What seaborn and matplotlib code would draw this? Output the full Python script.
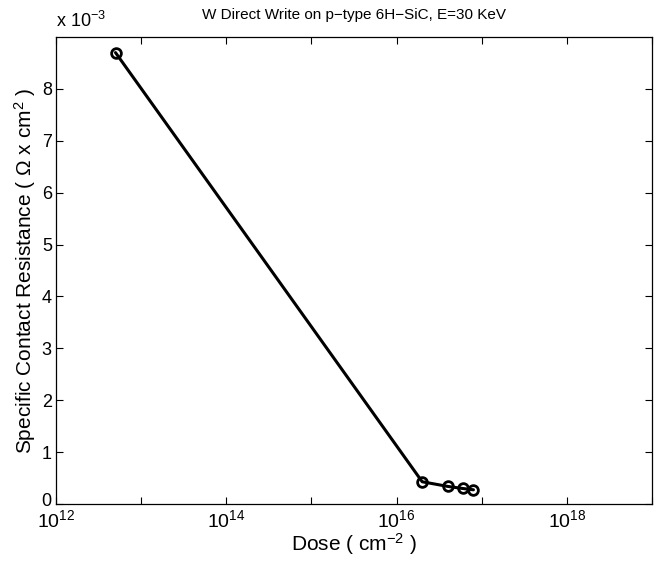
import numpy as np
import pandas as pd
import seaborn as sns
import matplotlib.pyplot as plt
import matplotlib.transforms as mtransforms
from matplotlib.ticker import FuncFormatter

dose = [5e12, 2.0e16, 4.0e16, 6.0e16, 8.0e16]
resistance = [8.7e-3, 0.43e-3, 0.34e-3, 0.30e-3, 0.275e-3]

data = pd.DataFrame({'dose': dose, 'rc': resistance})

sns.set_style('ticks')
plt.rcParams['font.family'] = ['Liberation Sans', 'DejaVu Sans']
plt.rcParams['mathtext.fontset'] = 'custom'
plt.rcParams['mathtext.rm'] = 'Liberation Sans'
plt.rcParams['mathtext.it'] = 'Liberation Sans'
for k in ['text.color', 'axes.labelcolor', 'xtick.color', 'ytick.color', 'axes.edgecolor']:
    plt.rcParams[k] = 'black'

fig = plt.figure(figsize=(6.55, 5.67), dpi=100)
ax = fig.add_axes([0.0855, 0.111, 0.9099, 0.8237])

sns.lineplot(data=data, x='dose', y='rc', ax=ax, color='black', linewidth=2.2,
             marker='o', markersize=7, markerfacecolor='none',
             markeredgecolor='black', markeredgewidth=2)

ax.set_xscale('log')
ax.set_xlim(1e12, 1e19)
ax.set_ylim(0, 9e-3)

xt = [10.0 ** k for k in range(12, 20)]
ax.set_xticks(xt)
ax.set_xticklabels([r'$\mathrm{10^{%d}}$' % k if k % 2 == 0 else '' for k in range(12, 20)])
ax.xaxis.set_minor_locator(plt.NullLocator())
ax.set_yticks(np.arange(0, 9e-3, 1e-3))
ax.yaxis.set_major_formatter(FuncFormatter(lambda v, p: '%d' % round(v * 1e3)))

ax.tick_params(direction='in', length=5, width=0.8, top=True, right=True,
               labelsize=13, pad=3)
ax.tick_params(axis='x', pad=4, labelsize=14)
for sp in ax.spines.values():
    sp.set_linewidth(0.9)

# nudge the "0" label up a little so it clears the 10^12 label
zero_lbl = ax.yaxis.get_major_ticks()[0].label1
zero_lbl.set_transform(zero_lbl.get_transform() +
                       mtransforms.ScaledTranslation(0, 3 / 72, fig.dpi_scale_trans))

ax.set_xlabel(r'Dose ( cm$^{-2}$ )', fontsize=15, labelpad=0)
ax.set_ylabel(r'Specific Contact Resistance ( $\Omega$ x cm$^2$ )', fontsize=15, labelpad=3)
ax.set_title('W Direct Write on p\u2212type 6H\u2212SiC, E=30 KeV', fontsize=11, pad=13)
ax.text(0.0, 1.012, r'x 10$^{-3}$', transform=ax.transAxes, fontsize=13,
        ha='left', va='bottom')

fig.savefig('out.png', dpi=100)
